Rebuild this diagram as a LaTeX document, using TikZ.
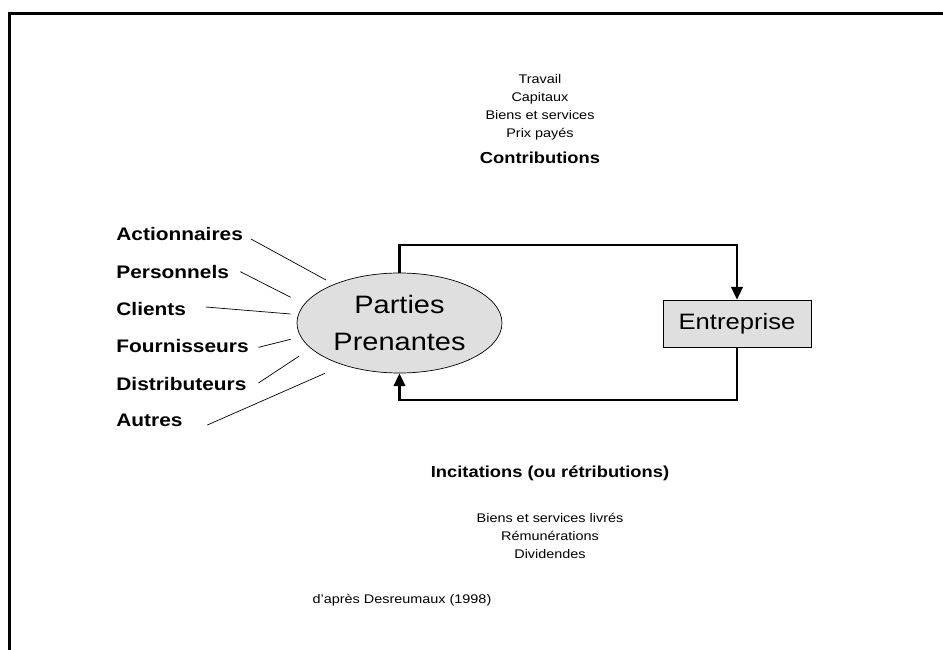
\documentclass[tikz,border=0pt]{standalone}
\usepackage{fontspec}
\setmainfont{Liberation Sans}[FakeStretch=1.15]
\usetikzlibrary{shapes.geometric,arrows.meta,positioning}
\tikzset{
  partlabel/.style={anchor=west,inner sep=1pt,font=\fontsize{15.5}{17}\selectfont\bfseries},
  smalltext/.style={align=center,inner sep=1pt,font=\fontsize{10.7}{15.3}\selectfont},
  titletext/.style={inner sep=1pt,font=\fontsize{13.6}{15}\selectfont\bfseries},
  ppnode/.style={ellipse,draw,fill=gray!25,line width=0.6pt,align=center,inner sep=0pt,minimum width=6.15cm,minimum height=3.0cm,font=\fontsize{21.5}{31.5}\selectfont},
  entnode/.style={rectangle,draw,fill=gray!25,line width=0.6pt,minimum width=4.44cm,minimum height=1.41cm,font=\fontsize{19}{22}\selectfont},
  flowarr/.style={-{Triangle[length=11pt,width=10pt]},line width=1.8pt},
  linkline/.style={line width=0.6pt}
}
\begin{document}
\begin{tikzpicture}[x=0.03cm,y=-0.03cm]
  \useasboundingbox (0,0) rectangle (943,650);
  % frame
  \draw[line width=2.6pt] (9.5,650) -- (9.5,13.5) -- (943,13.5);
  % main nodes
  \node[ppnode] (pp) at (399.5,323) {Parties\\Prenantes};
  \node[entnode] (ent) at (737,323.5) {Entreprise};
  % stakeholders
  \node[partlabel] (act) at (115,234) {Actionnaires};
  \node[partlabel] (pers) at (115,271.7) {Personnels};
  \node[partlabel] (cli) at (115,309) {Clients};
  \node[partlabel] (four) at (115,345.7) {Fournisseurs};
  \node[partlabel] (dist) at (115,384) {Distributeurs};
  \node[partlabel] (aut) at (115,420.7) {Autres};
  \coordinate (actend) at (326,280);
  \coordinate (persend) at (290.7,297.3);
  \coordinate (cliend) at (290.7,314);
  \coordinate (fourend) at (290.7,339.3);
  \coordinate (distend) at (299.3,356);
  \coordinate (autend) at (325,373.3);
  \draw[linkline] ([xshift=0.2cm,yshift=-0.15cm]act.east) -- (actend);
  \draw[linkline] ([xshift=0.3cm]pers.east) -- (persend);
  \draw[linkline] ([xshift=0.55cm,yshift=0.06cm]cli.east) -- (cliend);
  \draw[linkline] ([xshift=0.25cm,yshift=-0.05cm]four.east) -- (fourend);
  \draw[linkline] ([xshift=0.32cm,yshift=0.03cm]dist.east) -- (distend);
  \draw[linkline] ([xshift=0.7cm,yshift=-0.13cm]aut.east) -- (autend);
  % exchange loop
  \coordinate (topbend) at (399.5,245);
  \coordinate (botbend) at (399.5,400);
  \draw[flowarr] (pp.north) -- (topbend) -| (ent.north);
  \draw[flowarr] (ent.south) |- (botbend) -- (pp.south);
  % contributions
  \node[smalltext] (contlist) at (540,107) {Travail\\Capitaux\\Biens et services\\Prix payés};
  \node[titletext] (cont) at (540,158) {Contributions};
  % incitations
  \node[titletext] (inc) at (550,473) {Incitations (ou rétributions)};
  \node[smalltext] (inclist) at (550,536) {Biens et services livrés\\Rémunérations\\Dividendes};
  \node[smalltext] (src) at (402,600) {d’après Desreumaux (1998)};
\end{tikzpicture}
\end{document}
